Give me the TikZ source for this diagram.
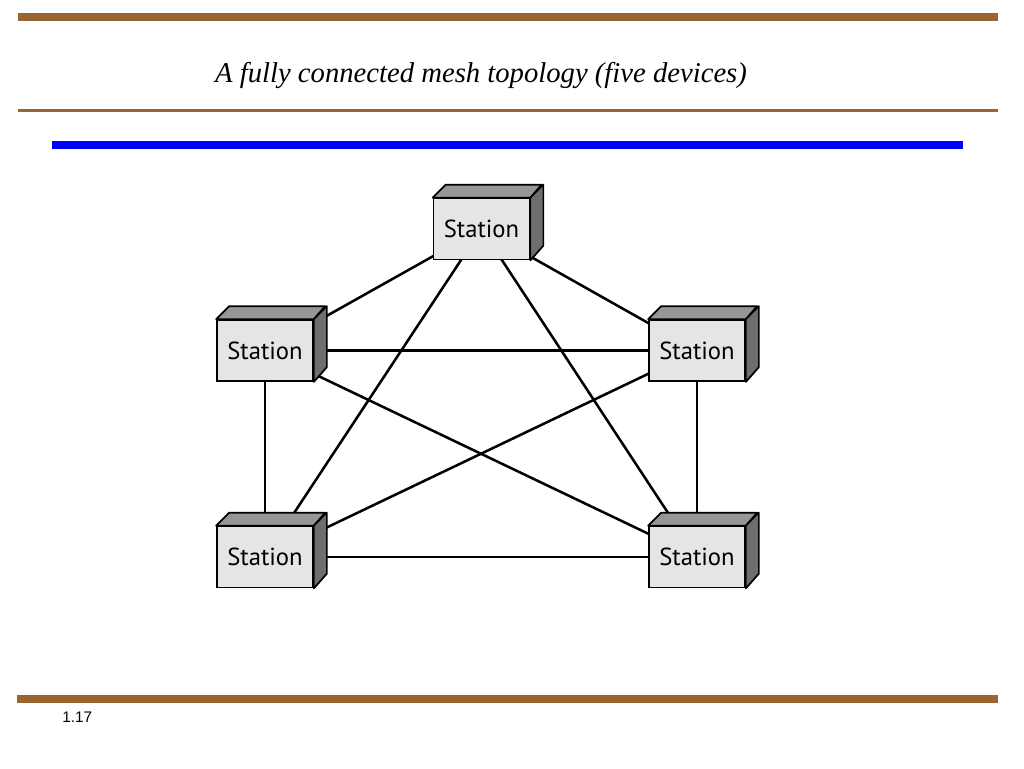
\documentclass[tikz,border=0pt]{standalone}
\usepackage{fontspec}
\setmainfont{Liberation Serif}
\newfontfamily\stfont{PT Sans}
\newfontfamily\numfont{Liberation Sans}
\usetikzlibrary{calc}
\definecolor{brownbar}{RGB}{153,102,51}
\definecolor{frontgray}{RGB}{229,229,229}
\definecolor{topgray}{RGB}{150,150,150}
\definecolor{sidegray}{RGB}{110,110,110}
\begin{document}
\begin{tikzpicture}[x=0.75pt,y=-0.75pt,
  station/.style={draw=black, line width=1.3pt, fill=frontgray, minimum width=96*0.75pt, minimum height=61*0.75pt, inner sep=0pt, font=\stfont\fontsize{18.5}{20}\selectfont},
  link/.style={line width=1.9pt, black}]
\useasboundingbox (0,0) rectangle (1024,768);
\fill[white] (0,0) rectangle (1024,768);
% bars
\fill[brownbar] (18,13) rectangle (998,21);
\fill[brownbar] (18,109) rectangle (998,112);
\fill[blue] (52,141) rectangle (963,149);
\fill[brownbar] (17,695) rectangle (998,703);
\node[anchor=base west, font=\numfont\fontsize{11.5}{13}\selectfont, inner sep=0pt] (pg) at (62,722) {1.17};
\node[anchor=base, font=\itshape\fontsize{21.5}{26}\selectfont, inner sep=0pt] (title) at (481,82) {A fully connected mesh topology (five devices)};
% station positions (front face centres)
\coordinate (pT) at (481.5,229);
\coordinate (pL) at (265,350.5);
\coordinate (pR) at (697,350.5);
\coordinate (pBL) at (265,557);
\coordinate (pBR) at (697,557);
% links (drawn first, behind boxes)
\foreach \a/\b in {pT/pL,pT/pR,pT/pBL,pT/pBR,pL/pR,pL/pBL,pL/pBR,pR/pBL,pR/pBR,pBL/pBR}
  \draw[link] (\a) -- (\b);
% stations
\foreach \n/\p in {T/pT,L/pL,R/pR,BL/pBL,BR/pBR}{
  \node[station] (\n) at (\p) {Station};
  \draw[line width=1.3pt, fill=topgray, line join=round] (\n.north west) -- ++(13,-13) -- ++(96,0) -- (\n.north east) -- cycle;
  \draw[line width=1.3pt, fill=sidegray, line join=round] (\n.north east) -- ++(13,-13) -- ++(0,61) -- (\n.south east) -- cycle;
  \node[station] at (\p) {Station};
}
\end{tikzpicture}
\end{document}
